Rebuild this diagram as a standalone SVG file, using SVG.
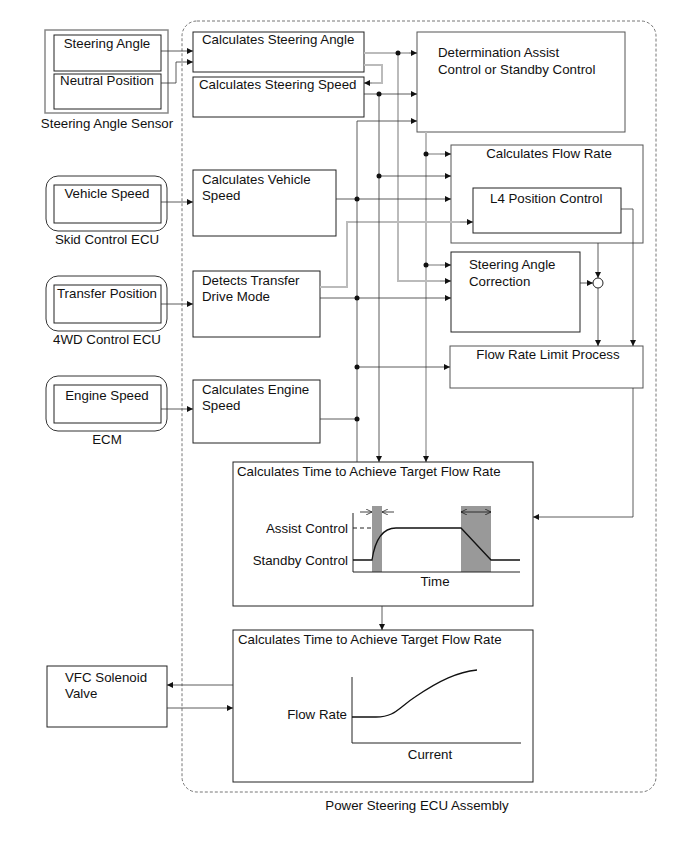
<svg xmlns="http://www.w3.org/2000/svg" width="691" height="854" viewBox="0 0 691 854">
<style>
text{font-family:"Liberation Sans",Arial,sans-serif;font-size:13.3px;fill:#111}
.c{text-anchor:middle}
.e{text-anchor:end}
.box{fill:#fff;stroke:#222;stroke-width:1}
.gbox{fill:#fff;stroke:#555;stroke-width:1}
.th{fill:none;stroke:#333;stroke-width:0.8}
.gr{fill:none;stroke:#bbb;stroke-width:2}
.dot{fill:#111}
.band{fill:#999;stroke:none}
</style>
<defs>
<marker id="a" viewBox="0 0 10 10" refX="10" refY="5" markerWidth="9" markerHeight="6" markerUnits="userSpaceOnUse" orient="auto">
<path d="M0,0 L10,5 L0,10 z" fill="#111"/>
</marker>
<marker id="o" viewBox="0 0 10 10" refX="10" refY="5" markerWidth="8" markerHeight="6" markerUnits="userSpaceOnUse" orient="auto">
<path d="M0,0 L10,5 L0,10" fill="none" stroke="#111" stroke-width="1.2"/>
</marker>
</defs>
<rect width="691" height="854" fill="#fff"/>

<g id="ecu-assembly">
<rect x="182" y="21" width="474" height="771" rx="15" fill="none" stroke="#777" stroke-width="1" stroke-dasharray="3,2"/>
<text class="c" x="417" y="810">Power Steering ECU Assembly</text>
</g>

<g id="steering-angle-sensor">
<rect x="45" y="30" width="123" height="83" fill="#fff" stroke="#888" stroke-width="1.5"/>
<rect class="box" x="54" y="35" width="107" height="36"/>
<text class="c" x="107" y="48">Steering Angle</text>
<rect class="box" x="54" y="74" width="107" height="35"/>
<text class="c" x="107" y="85">Neutral Position</text>
<text class="c" x="107" y="128">Steering Angle Sensor</text>
</g>

<g id="skid-control-ecu">
<rect x="46" y="176" width="121" height="55" rx="12" fill="#fff" stroke="#333"/>
<rect class="box" x="54" y="185" width="107" height="38"/>
<text class="c" x="107" y="198">Vehicle Speed</text>
<text class="c" x="107" y="244">Skid Control ECU</text>
</g>

<g id="4wd-control-ecu">
<rect x="46" y="276" width="121" height="55" rx="12" fill="#fff" stroke="#333"/>
<rect class="box" x="54" y="285" width="107" height="38"/>
<text class="c" x="107" y="298">Transfer Position</text>
<text class="c" x="107" y="344">4WD Control ECU</text>
</g>

<g id="ecm">
<rect x="46" y="376" width="121" height="55" rx="12" fill="#fff" stroke="#333"/>
<rect class="box" x="54" y="385" width="107" height="38"/>
<text class="c" x="107" y="400">Engine Speed</text>
<text class="c" x="107" y="444">ECM</text>
</g>

<g id="calc-steering-angle">
<rect class="box" x="193" y="32" width="171" height="40"/>
<text x="202" y="44">Calculates Steering Angle</text>
</g>
<g id="calc-steering-speed">
<rect class="box" x="193" y="77" width="171" height="40"/>
<text x="199" y="89">Calculates Steering Speed</text>
</g>
<g id="calc-vehicle-speed">
<rect class="box" x="193" y="170" width="143" height="66"/>
<text x="202" y="184">Calculates Vehicle</text>
<text x="202" y="200">Speed</text>
</g>
<g id="detects-transfer">
<rect class="box" x="193" y="271" width="127" height="66"/>
<text x="202" y="285">Detects Transfer</text>
<text x="202" y="301">Drive Mode</text>
</g>
<g id="calc-engine-speed">
<rect class="box" x="193" y="380" width="127" height="63"/>
<text x="202" y="394">Calculates Engine</text>
<text x="202" y="410">Speed</text>
</g>

<g id="determination">
<rect class="gbox" x="417" y="32" width="208" height="100"/>
<text x="438" y="57">Determination Assist</text>
<text x="438" y="74">Control or Standby Control</text>
</g>
<g id="calc-flow-rate">
<rect class="gbox" x="451" y="145" width="192" height="98"/>
<text class="c" x="549" y="158">Calculates Flow Rate</text>
</g>
<g id="l4-position-control">
<rect class="box" x="473" y="188" width="148" height="45"/>
<text x="490" y="203">L4 Position Control</text>
</g>
<g id="steering-angle-correction">
<rect class="box" x="451" y="252" width="129" height="80"/>
<text x="469" y="269">Steering Angle</text>
<text x="469" y="286">Correction</text>
</g>
<g id="junction">
<circle cx="598" cy="283" r="5" fill="#fff" stroke="#222"/>
</g>
<g id="flow-rate-limit">
<rect class="gbox" x="450" y="346" width="193" height="42"/>
<text class="c" x="548" y="359">Flow Rate Limit Process</text>
</g>

<g id="calc-time-1">
<rect class="box" x="233" y="462" width="300" height="144"/>
<text x="237" y="476">Calculates Time to Achieve Target Flow Rate</text>
<rect class="band" x="372" y="506" width="10" height="66"/>
<rect class="band" x="461" y="506" width="30" height="66"/>
<path d="M353,513 V572 H520" fill="none" stroke="#222" stroke-width="1"/>
<path d="M353,528 H372" fill="none" stroke="#222" stroke-dasharray="4,3"/>
<path d="M353,560 H372 C375,540 382,528 396,528 H461 L491,560 H520" fill="none" stroke="#111" stroke-width="1.3"/>
<line x1="360" y1="512" x2="372" y2="512" stroke="#111" stroke-width="0.8" marker-end="url(#o)"/>
<line x1="394" y1="512" x2="382" y2="512" stroke="#111" stroke-width="0.8" marker-end="url(#o)"/>
<line x1="476" y1="512" x2="461" y2="512" stroke="#111" stroke-width="0.8" marker-end="url(#o)"/>
<line x1="476" y1="512" x2="491" y2="512" stroke="#111" stroke-width="0.8" marker-end="url(#o)"/>
<text class="e" x="348" y="533">Assist Control</text>
<text class="e" x="348" y="565">Standby Control</text>
<text class="c" x="435" y="586">Time</text>
</g>

<g id="calc-time-2">
<rect class="box" x="233" y="630" width="300" height="152"/>
<text x="238" y="644">Calculates Time to Achieve Target Flow Rate</text>
<path d="M352,677 V743 H521" fill="none" stroke="#222" stroke-width="1"/>
<path d="M352,717 H376 C395,717 398,708 415,697 C440,680 458,672 477,670" fill="none" stroke="#111" stroke-width="1.3"/>
<text class="e" x="347" y="719">Flow Rate</text>
<text class="c" x="430" y="759">Current</text>
</g>

<g id="vfc-solenoid-valve">
<rect class="box" x="47" y="666" width="120" height="61"/>
<text x="65" y="682">VFC Solenoid</text>
<text x="65" y="698">Valve</text>
</g>

<g id="connectors">
<path class="th" d="M161,51 H193" marker-end="url(#a)"/>
<path class="th" d="M161,83 H176 V62 H193" marker-end="url(#a)"/>
<path class="th" d="M161,202 H193" marker-end="url(#a)"/>
<path class="th" d="M161,304 H193" marker-end="url(#a)"/>
<path class="th" d="M161,409 H193" marker-end="url(#a)"/>

<path class="gr" d="M364,53 H409"/>
<path class="th" d="M409,53 H417" marker-end="url(#a)"/>
<path class="gr" d="M364,65 H382 V83 H372"/>
<path class="th" d="M372,83 H364" marker-end="url(#a)"/>
<path class="gr" d="M398,53 V281 H440"/>
<path class="th" d="M440,281 H451" marker-end="url(#a)"/>
<path class="gr" d="M426,132 V450"/>
<path class="th" d="M426,450 V462" marker-end="url(#a)"/>
<path class="gr" d="M426,154 H440"/>
<path class="th" d="M440,154 H451" marker-end="url(#a)"/>
<path class="gr" d="M426,265 H440"/>
<path class="th" d="M440,265 H451" marker-end="url(#a)"/>
<path class="gr" d="M320,287 H347 V222 H460"/>
<path class="th" d="M460,222 H473" marker-end="url(#a)"/>

<path class="th" d="M364,94 H417" marker-end="url(#a)"/>
<path class="th" d="M379,94 V462" marker-end="url(#a)"/>
<path class="th" d="M379,176 H451" marker-end="url(#a)"/>
<path class="th" d="M357,462 V121 H417" marker-end="url(#a)"/>
<path class="th" d="M336,199 H451" marker-end="url(#a)"/>
<path class="th" d="M320,298 H451" marker-end="url(#a)"/>
<path class="th" d="M357,367 H450" marker-end="url(#a)"/>
<path class="th" d="M320,419 H357"/>

<path class="th" d="M598,243 V278" marker-end="url(#a)"/>
<path class="th" d="M580,283 H593" marker-end="url(#a)"/>
<path class="th" d="M598,288 V346" marker-end="url(#a)"/>
<path class="th" d="M621,209 H633 V346" marker-end="url(#a)"/>
<path class="th" d="M633,388 V517 H533" marker-end="url(#a)"/>

<path class="th" d="M382,606 V630" marker-end="url(#a)"/>
<path class="th" d="M233,685 H167" marker-end="url(#a)"/>
<path class="th" d="M167,708 H233" marker-end="url(#a)"/>

<circle class="dot" cx="398" cy="53" r="2.5"/>
<circle class="dot" cx="379" cy="94" r="2.5"/>
<circle class="dot" cx="379" cy="176" r="2.5"/>
<circle class="dot" cx="426" cy="154" r="2.5"/>
<circle class="dot" cx="426" cy="265" r="2.5"/>
<circle class="dot" cx="357" cy="199" r="2.5"/>
<circle class="dot" cx="357" cy="298" r="2.5"/>
<circle class="dot" cx="357" cy="367" r="2.5"/>
<circle class="dot" cx="357" cy="419" r="2.5"/>
</g>
</svg>
